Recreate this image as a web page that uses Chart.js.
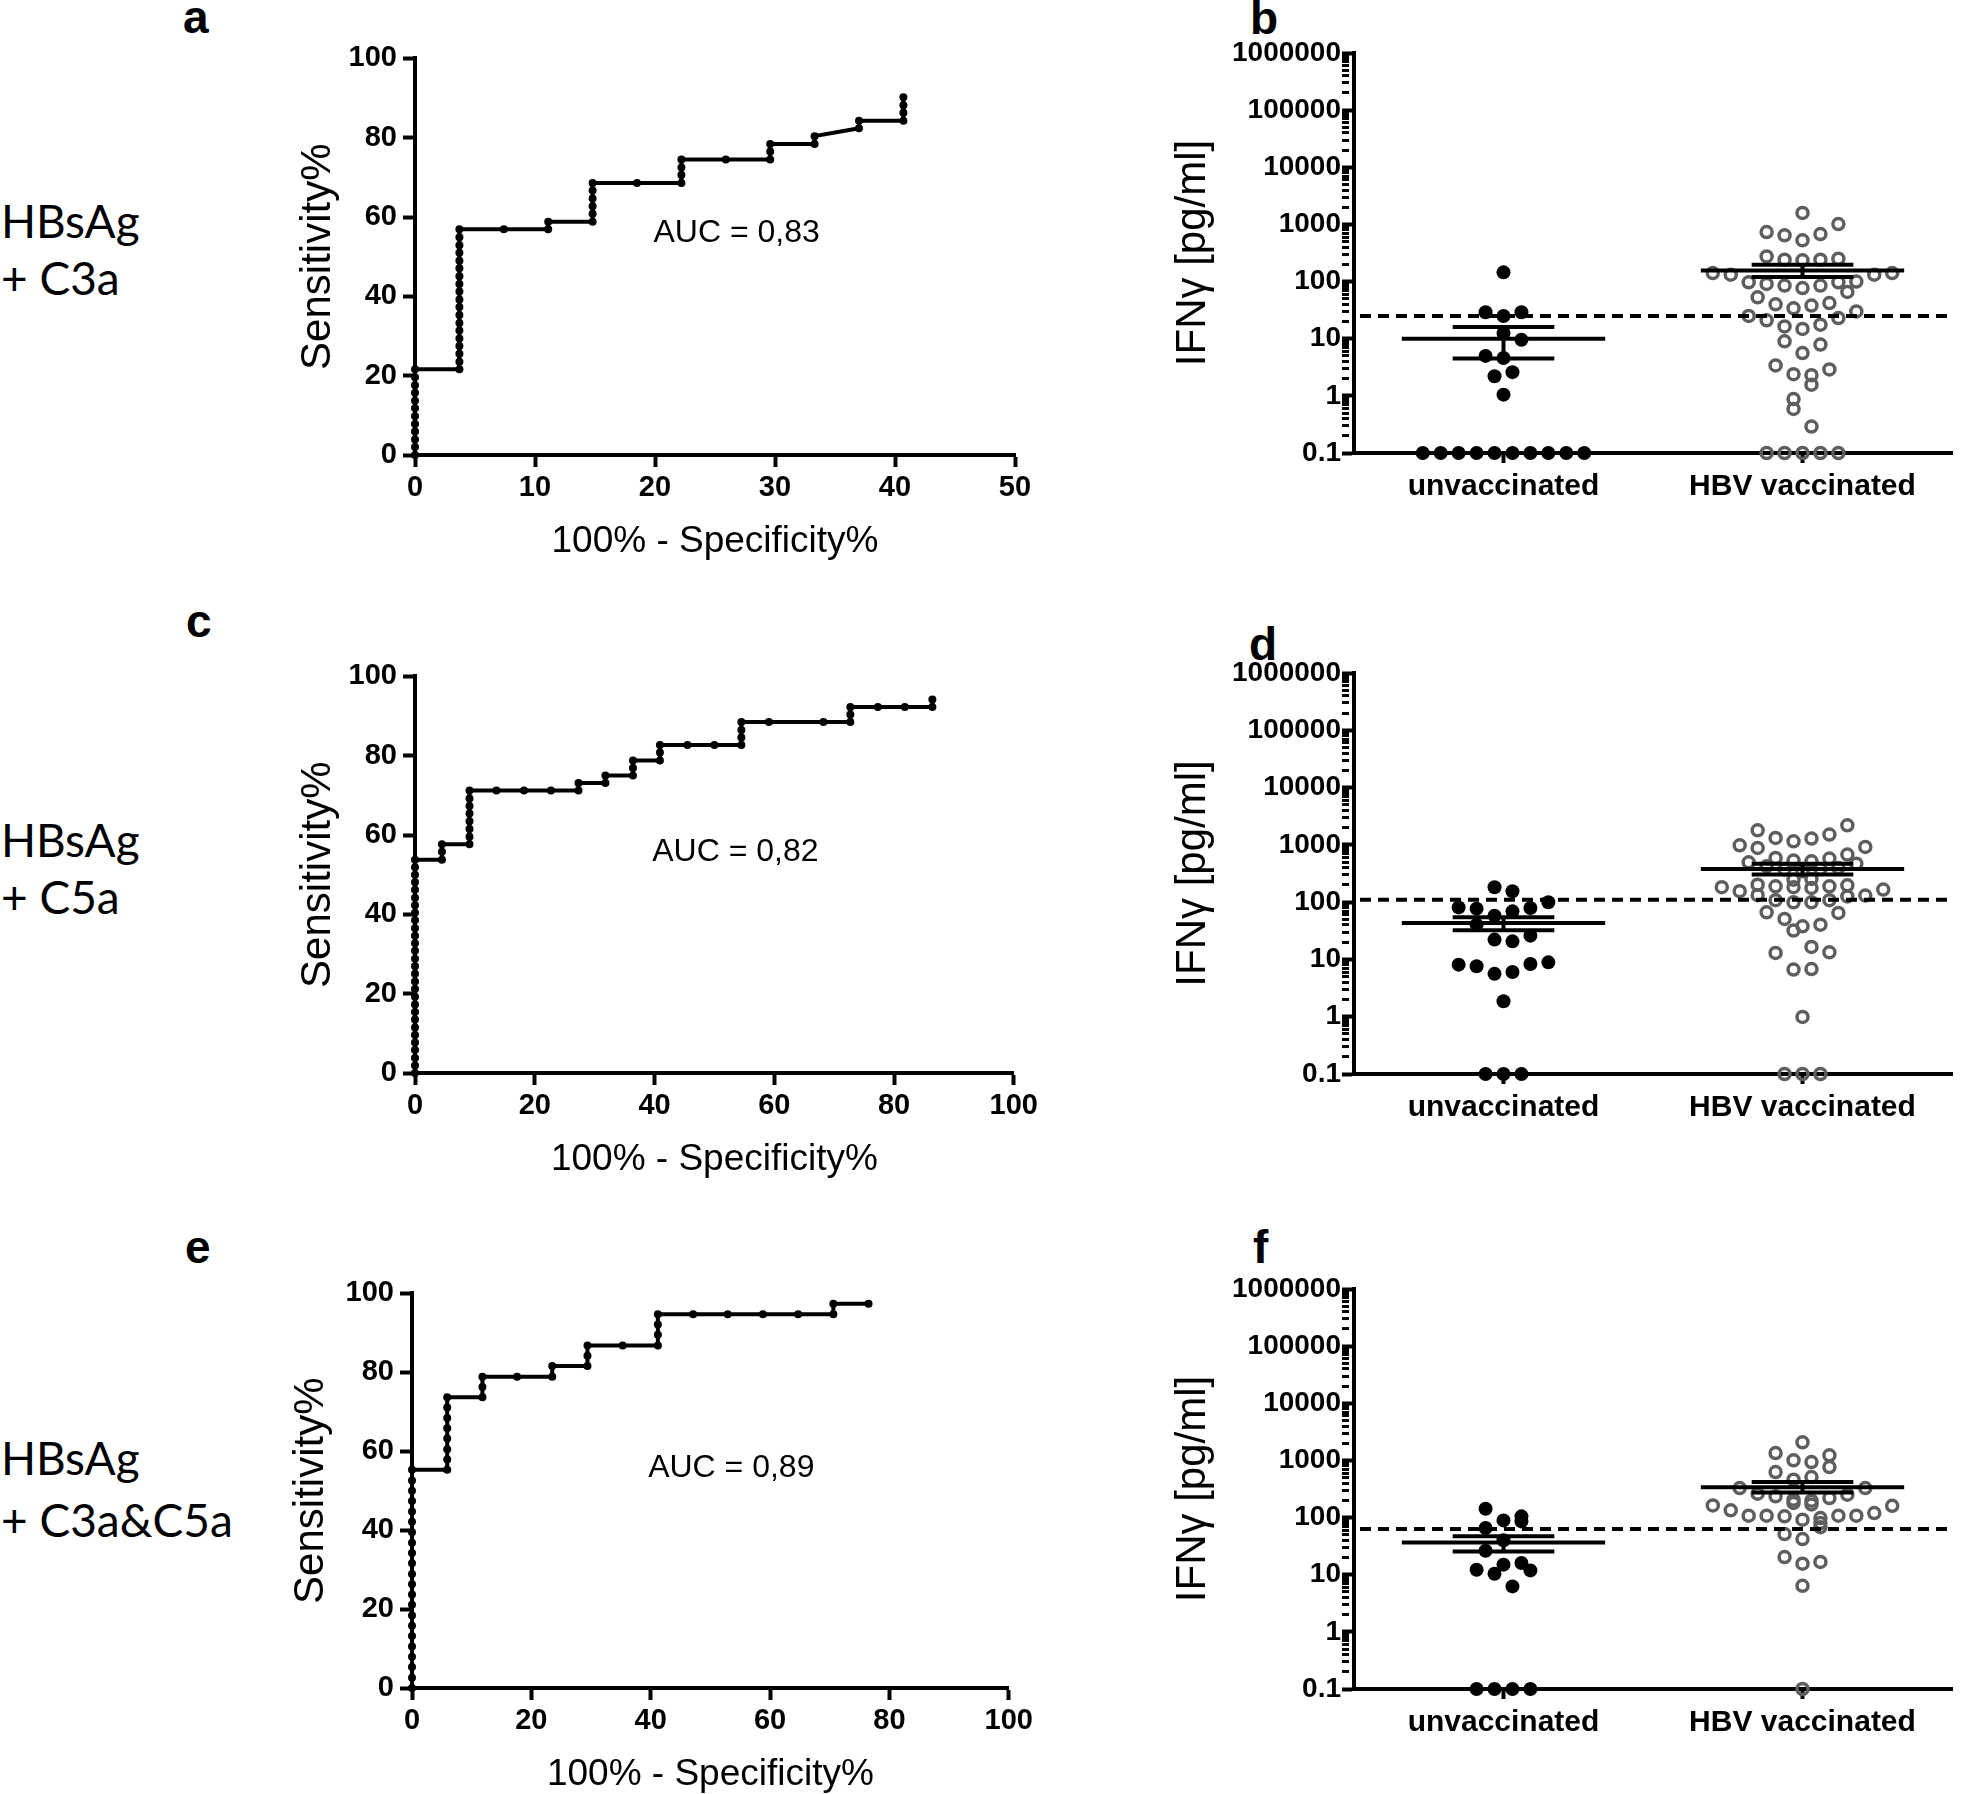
<!DOCTYPE html>
<html>
<head>
<meta charset="utf-8">
<title>HBsAg ROC and IFN-gamma</title>
<script src="https://cdn.jsdelivr.net/npm/chart.js@4.4.1/dist/chart.umd.min.js"></script>
<style>
  body { margin: 0; background: #fff; width: 1961px; height: 1794px; position: relative; overflow: hidden; }
  canvas { position: absolute; }
  svg { position: absolute; left: 0; top: 0; }
  .letter { font: bold 46px "Liberation Sans", Arial, sans-serif; }
  .row { font: 46px Lato, "Open Sans", sans-serif; }
</style>
</head>
<body>
<svg width="1961" height="1794">
  <text class="letter" x="183" y="33">a</text>
  <text class="letter" x="1250" y="34">b</text>
  <text class="letter" x="186" y="637">c</text>
  <text class="letter" x="1249" y="660">d</text>
  <text class="letter" x="185" y="1263">e</text>
  <text class="letter" x="1253" y="1263">f</text>
  <text class="row" x="1" y="238">HBsAg</text>
  <text class="row" x="1" y="295">+ C3a</text>
  <text class="row" x="1" y="857">HBsAg</text>
  <text class="row" x="1" y="914">+ C5a</text>
  <text class="row" x="1" y="1475">HBsAg</text>
  <text class="row" x="1" y="1537">+ C3a&amp;C5a</text>
</svg>
<canvas id="rocA"></canvas>
<canvas id="rocC"></canvas>
<canvas id="rocE"></canvas>
<canvas id="ifnB"></canvas>
<canvas id="ifnD"></canvas>
<canvas id="ifnF"></canvas>
<script>
// ---- ROC curves: x = 100% - Specificity%, y = Sensitivity% ----
const rocAX = [0,0,0,0,0,0,0,0,0,0,0,0,
  3.7,3.7,3.7,3.7,3.7,3.7,3.7,3.7,3.7,3.7,3.7,3.7,3.7,3.7,3.7,3.7,3.7,3.7,3.7,
  7.4,11.1,11.1,14.8,14.8,14.8,14.8,14.8,14.8,18.5,22.2,22.2,22.2,22.2,25.9,29.6,29.6,29.6,
  33.3,33.3,37.0,37.0,40.7,40.7,40.7,40.7];
const rocAY = [0,2.0,3.9,5.9,7.8,9.8,11.8,13.7,15.7,17.6,19.6,21.6,
  21.6,23.5,25.5,27.5,29.4,31.4,33.3,35.3,37.3,39.2,41.2,43.1,45.1,47.1,49.0,51.0,52.9,54.9,56.9,
  56.9,56.9,58.8,58.8,60.8,62.7,64.7,66.7,68.6,68.6,68.6,70.6,72.5,74.5,74.5,74.5,76.5,78.4,
  78.4,80.4,82.4,84.3,84.3,86.3,88.2,90.2];

const rocCX = [0,0,0,0,0,0,0,0,0,0,0,0,0,0,0,0,0,0,0,0,0,0,0,0,0,0,0,0,0,
  4.5,4.5,4.5,9.1,9.1,9.1,9.1,9.1,9.1,9.1,9.1,13.6,18.2,22.7,27.3,27.3,31.8,31.8,
  36.4,36.4,36.4,40.9,40.9,40.9,45.5,50.0,54.5,54.5,54.5,54.5,59.1,68.2,
  72.7,72.7,72.7,77.3,81.8,86.4,86.4];
const rocCY = [0,1.9,3.8,5.8,7.7,9.6,11.5,13.5,15.4,17.3,19.2,21.2,23.1,25.0,26.9,28.8,30.8,32.7,
  34.6,36.5,38.5,40.4,42.3,44.2,46.2,48.1,50.0,51.9,53.8,
  53.8,55.8,57.7,57.7,59.6,61.5,63.5,65.4,67.3,69.2,71.2,71.2,71.2,71.2,71.2,73.1,73.1,75.0,
  75.0,76.9,78.8,78.8,80.8,82.7,82.7,82.7,82.7,84.6,86.5,88.5,88.5,88.5,
  88.5,90.4,92.3,92.3,92.3,92.3,94.2];

const rocEX = [0,0,0,0,0,0,0,0,0,0,0,0,0,0,0,0,0,0,0,0,0,0,
  5.9,5.9,5.9,5.9,5.9,5.9,5.9,5.9,11.8,11.8,11.8,17.6,23.5,23.5,29.4,29.4,29.4,35.3,
  41.2,41.2,41.2,41.2,47.1,52.9,58.8,64.7,70.6,70.6,76.5];
const rocEY = [0,2.6,5.3,7.9,10.5,13.2,15.8,18.4,21.1,23.7,26.3,28.9,31.6,34.2,36.8,39.5,42.1,44.7,
  47.4,50.0,52.6,55.3,
  55.3,57.9,60.5,63.2,65.8,68.4,71.1,73.7,73.7,76.3,78.9,78.9,78.9,81.6,81.6,84.2,86.8,86.8,
  86.8,89.5,92.1,94.7,94.7,94.7,94.7,94.7,94.7,97.4,97.4];

const aucValues = ['0,83', '0,82', '0,89'];
const rocYTicks = [0, 20, 40, 60, 80, 100];
const rocXTicksA = [0, 10, 20, 30, 40, 50];
const rocXTicksCE = [0, 20, 40, 60, 80, 100];

// ---- IFN-gamma column scatter (dx = horizontal spread around the column) ----
const groups = ['unvaccinated', 'HBV vaccinated'];
const logLabels = ['0.1', '1', '10', '100', '1000', '10000', '100000', '1000000'];

const bUnvacDx = [0,-0.06,0.06,0,0,0.06,-0.06,0,0.03,-0.03,0,
  -0.27,-0.21,-0.15,-0.09,-0.03,0.03,0.09,0.15,0.21,0.27];
const bUnvacY = [145,29,29,25,12.6,9.6,5.0,4.6,2.6,2.2,1.05,
  0.1,0.1,0.1,0.1,0.1,0.1,0.1,0.1,0.1,0.1];
const bHbvDx = [0,0.12,-0.12,-0.06,0.06,0,-0.12,-0.06,0,0.06,0.12,-0.30,-0.24,0.24,0.30,
  -0.18,-0.12,-0.06,0,0.06,0.12,0.18,0.15,-0.15,-0.09,-0.03,0.03,0.09,0.18,
  -0.18,-0.12,-0.06,0,0.06,0.12,-0.06,0.06,0,-0.09,0.09,-0.03,0.03,0.03,-0.03,-0.03,0.03,
  -0.12,-0.06,0,0.06,0.12];
const bHbvY = [1585,1016,736,645,679,526,276,241,235,241,251,141,132,132,141,
  97,91,85,77,85,97,100,66,53,40,34,38,42,30,
  25,21,16.4,14.8,17.6,23,9.0,7.9,5.6,3.4,2.9,2.4,2.3,1.57,0.88,0.59,0.29,
  0.1,0.1,0.1,0.1,0.1];
const bStats = { unvac: [10, 4.5, 16], hbv: [157, 120, 197], cutoff: 25 };

const dUnvacDx = [-0.03,0.03,0.15,-0.15,-0.09,0.09,-0.03,0.03,-0.09,0.09,-0.03,0.03,
  -0.15,-0.09,0.09,0.15,-0.03,0.03,0,-0.06,0,0.06];
const dUnvacY = [182,155,99.5,81,77,79,58,69,40.5,26,22.2,20.7,
  8.1,7.6,8.3,8.9,5.6,6.05,1.86,0.1,0.1,0.1];
const dHbvDx = [0.15,-0.15,0.09,-0.09,0.03,-0.03,-0.21,0.21,-0.15,0.15,-0.09,0.09,-0.03,0.03,
  -0.18,0.18,-0.12,-0.06,0.06,0.12,0,-0.03,0.03,-0.15,-0.09,-0.03,0.03,0.09,0.15,
  -0.27,-0.21,0.27,-0.15,0.21,-0.09,-0.03,0.03,0.09,0.15,-0.12,0.12,-0.06,0,0.06,-0.03,
  -0.09,0.03,0.09,-0.03,0.03,0,-0.06,0,0.06];
const dHbvY = [2193,1795,1510,1318,1285,1153,982,918,883,676,590,575,531,516,
  497,470,423,370,380,395,346,247,254,202,189,182,177,189,197,
  182,155,166,132,130,108,99.5,99.5,108,126,66.5,64.9,50.9,37.9,40.5,31.9,
  13.0,16.5,13.3,6.65,6.8,0.99,0.1,0.1,0.1];
const dStats = { unvac: [43.4, 32.3, 54.5], hbv: [380, 303, 470], cutoff: 110 };

const fUnvacDx = [-0.06,0.06,0.06,0,-0.06,0,-0.06,-0.09,0.09,0,0.06,-0.03,0.03,
  -0.09,-0.03,0.03,0.09];
const fUnvacY = [143,105,85.7,89.3,65.6,40,26.3,12.2,11.9,15,16,10.4,6.25,
  0.1,0.1,0.1,0.1];
const fHbvDx = [0,-0.09,0.09,-0.03,0.03,0.09,-0.09,0.03,-0.03,-0.21,0.21,-0.15,-0.09,-0.03,0.03,
  0.09,0.15,-0.03,0.03,-0.30,-0.24,-0.18,-0.12,-0.06,0,0.06,0.12,0.18,0.24,0.30,
  0.06,0.06,-0.06,0,-0.06,0,0.06,0,0];
const fHbvY = [2070,1348,1227,1003,938,766,627,512,460,329,329,262,235,206,197,
  220,251,180,170,163,134,108,108,105,91.8,98,108,108,120,161,
  80,68,51.5,42,20.4,15.6,16.7,6.4,0.1];
const fStats = { unvac: [36.8, 25.6, 46.9], hbv: [338, 276, 419], cutoff: 63 };

// ---- shared styling ----
const SANS = '"Liberation Sans", Arial, sans-serif';

Chart.defaults.animation = false;
Chart.defaults.color = '#000';
Chart.defaults.plugins.legend.display = false;
Chart.defaults.plugins.tooltip.enabled = false;

// sizes the canvas so that the plot area lands on `area` = [left, top, right, bottom]
function place(canvas, area, yw, xh, padTop, padRight) {
  const left = area[0] - yw, top = area[1] - padTop;
  const w = area[2] + padRight - left, h = area[3] + xh - top;
  canvas.style.left = left + 'px';
  canvas.style.top = top + 'px';
  canvas.width = w;
  canvas.height = h;
  canvas.style.width = w + 'px';
  canvas.style.height = h + 'px';
}

const aucPlugin = {
  id: 'auc',
  afterDatasetsDraw(chart, args, opts) {
    const { ctx, scales: { x, y } } = chart;
    ctx.save();
    ctx.font = '32px ' + SANS;
    ctx.fillStyle = '#000';
    ctx.textAlign = 'center';
    ctx.textBaseline = 'alphabetic';
    ctx.fillText(opts.text, x.getPixelForValue(opts.x), y.getPixelForValue(opts.y));
    ctx.restore();
  }
};

function rocChart(id, area, yw, xs, ys, xTicks, auc) {
  const canvas = document.getElementById(id);
  const xh = 109;
  place(canvas, area, yw, xh, 20, 25);
  const axisGrid = { drawOnChartArea: false, drawTicks: true, tickLength: 12, tickWidth: 4, tickColor: '#000' };
  const tickFont = { family: SANS, weight: 'bold', size: 29 };
  return new Chart(canvas, {
    type: 'scatter',
    data: {
      datasets: [{
        data: xs.map((x, i) => ({ x: x, y: ys[i] })),
        showLine: true,
        borderColor: '#000',
        borderWidth: 4,
        pointRadius: 4,
        pointBackgroundColor: '#000',
        pointBorderWidth: 0,
        clip: false
      }]
    },
    options: {
      responsive: false,
      devicePixelRatio: 1,
      layout: { padding: { top: 20, right: 25, left: 0, bottom: 0 } },
      scales: {
        x: {
          type: 'linear',
          min: xTicks[0], max: xTicks[xTicks.length - 1],
          afterBuildTicks: s => { s.ticks = xTicks.map(v => ({ value: v })); },
          ticks: { font: tickFont, color: '#000', padding: 4, maxRotation: 0, autoSkip: false },
          grid: axisGrid,
          border: { color: '#000', width: 4 },
          title: { display: true, text: '100% - Specificity%', color: '#000', padding: 0, font: { family: SANS, size: 37 } },
          afterFit: s => { s.height = xh; }
        },
        y: {
          type: 'linear',
          min: 0, max: 100,
          afterBuildTicks: s => { s.ticks = rocYTicks.map(v => ({ value: v })); },
          ticks: { font: tickFont, color: '#000', padding: 6, autoSkip: false },
          grid: axisGrid,
          border: { color: '#000', width: 4 },
          title: { display: true, text: 'Sensitivity%', color: '#000', padding: 0, font: { family: SANS, size: 42 } },
          afterFit: s => { s.width = yw; }
        }
      },
      plugins: { auc: auc }
    },
    plugins: [aucPlugin]
  });
}

function isDecade(v) {
  const l = Math.log10(v);
  return Math.abs(l - Math.round(l)) < 1e-9;
}

function logTicks() {
  const ticks = [];
  logLabels.forEach((lab, i) => {
    const v = Number(lab);
    ticks.push({ value: v, major: true });
    if (i < logLabels.length - 1) {
      for (let m = 2; m <= 9; m++) ticks.push({ value: m * v, major: false });
    }
  });
  return ticks;
}

function segment(x0, x1, y0, y1, extra) {
  return Object.assign({
    type: 'line',
    data: [{ x: x0, y: y0 }, { x: x1, y: y1 }],
    borderColor: '#000',
    borderWidth: 4,
    pointRadius: 0,
    clip: false
  }, extra || {});
}

function ifnChart(id, area, unvacDx, unvacY, hbvDx, hbvY, stats) {
  const canvas = document.getElementById(id);
  const yw = 186;
  place(canvas, area, yw, 60, 20, 3);
  const lines = [segment(0.52, 2.5, stats.cutoff, stats.cutoff, { borderDash: [11, 7] })];
  [stats.unvac, stats.hbv].forEach((s, i) => {
    const c = i + 1;
    lines.push(segment(c - 0.34, c + 0.34, s[0], s[0]));
    lines.push(segment(c - 0.17, c + 0.17, s[1], s[1]));
    lines.push(segment(c - 0.17, c + 0.17, s[2], s[2]));
    lines.push(segment(c, c, s[1], s[2]));
  });
  return new Chart(canvas, {
    type: 'scatter',
    data: {
      datasets: lines.concat([
        {
          data: unvacDx.map((dx, i) => ({ x: 1 + dx, y: unvacY[i] })),
          pointRadius: 7,
          pointBackgroundColor: '#000',
          pointBorderWidth: 0,
          clip: false
        },
        {
          data: hbvDx.map((dx, i) => ({ x: 2 + dx, y: hbvY[i] })),
          pointRadius: 5.5,
          pointBackgroundColor: 'rgba(255,255,255,0)',
          pointBorderColor: '#5e5e5e',
          pointBorderWidth: 3.5,
          clip: false
        }
      ])
    },
    options: {
      responsive: false,
      devicePixelRatio: 1,
      layout: { padding: { top: 20, right: 3, left: 0, bottom: 0 } },
      scales: {
        x: {
          type: 'linear',
          min: 0.5, max: 2.5,
          afterBuildTicks: s => { s.ticks = groups.map((g, i) => ({ value: i + 1 })); },
          ticks: { callback: (v, i) => groups[i], font: { family: SANS, weight: 'bold', size: 30 }, color: '#000', padding: 6, maxRotation: 0, autoSkip: false },
          grid: { drawOnChartArea: false, drawTicks: true, tickLength: 10, tickWidth: 4, tickColor: '#000' },
          border: { color: '#000', width: 4 },
          afterFit: s => { s.height = 60; }
        },
        y: {
          type: 'logarithmic',
          min: 0.1, max: 1000000,
          afterBuildTicks: s => { s.ticks = logTicks(); },
          ticks: {
            autoSkip: false,
            callback: v => isDecade(v) ? (logLabels.find(l => Math.abs(Number(l) - v) <= v * 1e-9) || '') : '',
            font: { family: SANS, weight: 'bold', size: 28 }, color: '#000', padding: 1
          },
          grid: {
            drawOnChartArea: false, drawTicks: true, tickLength: 12, tickColor: '#000',
            tickWidth: c => (c.tick && isDecade(c.tick.value)) ? 4 : 3,
            tickBorderDash: c => (c.tick && isDecade(c.tick.value)) ? [] : [7, 40]
          },
          border: { color: '#000', width: 4 },
          title: { display: true, text: 'IFNγ [pg/ml]', color: '#000', padding: 0, font: { family: SANS, size: 42 } },
          afterFit: s => { s.width = yw; }
        }
      }
    }
  });
}

rocChart('rocA', [415, 55, 1015, 455], 122, rocAX, rocAY, rocXTicksA, { text: 'AUC = ' + aucValues[0], x: 26.8, y: 53.8 });
rocChart('rocC', [415, 673, 1017, 1073], 122, rocCX, rocCY, rocXTicksCE, { text: 'AUC = ' + aucValues[1], x: 53.5, y: 53.5 });
rocChart('rocE', [412, 1290, 1012, 1688], 126, rocEX, rocEY, rocXTicksCE, { text: 'AUC = ' + aucValues[2], x: 53.5, y: 53.5 });

ifnChart('ifnB', [1354, 53, 1958, 453], bUnvacDx, bUnvacY, bHbvDx, bHbvY, bStats);
ifnChart('ifnD', [1354, 673, 1958, 1074], dUnvacDx, dUnvacY, dHbvDx, dHbvY, dStats);
ifnChart('ifnF', [1354, 1289, 1958, 1689], fUnvacDx, fUnvacY, fHbvDx, fHbvY, fStats);
</script>
</body>
</html>
